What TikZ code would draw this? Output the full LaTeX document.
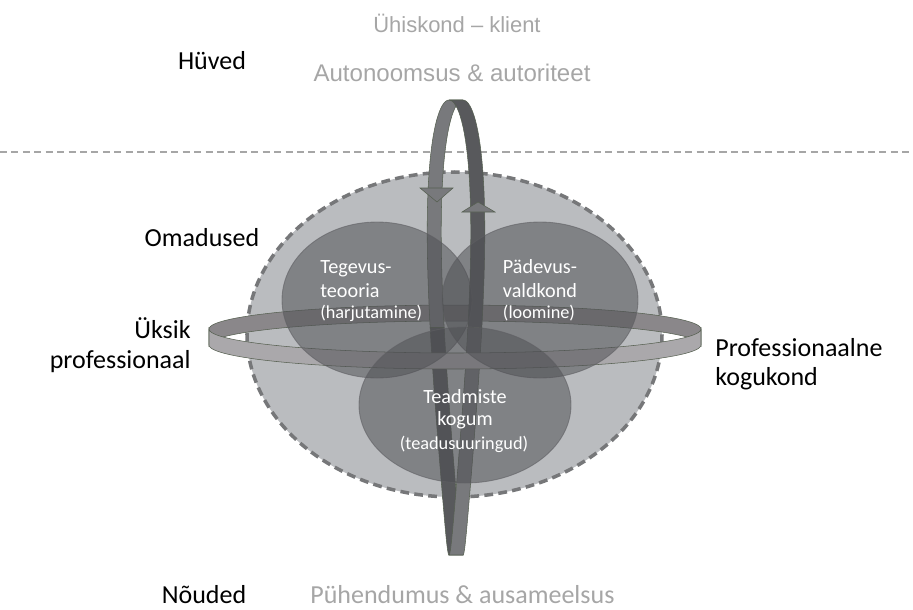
\documentclass[tikz,border=0pt]{standalone}
\usepackage{fontspec}
\setmainfont{Carlito}
\newfontfamily\arialfont{Liberation Sans}

\definecolor{outerfill}{RGB}{186,188,191}
\definecolor{outerline}{RGB}{118,119,121}
\definecolor{circfill}{RGB}{78,79,83}
\definecolor{circline}{RGB}{95,95,99}
\definecolor{paletext}{RGB}{166,166,166}
\definecolor{vlight}{RGB}{120,121,124}
\definecolor{vdark}{RGB}{88,89,92}
\definecolor{hback}{RGB}{138,135,138}
\definecolor{hfront}{RGB}{170,168,171}
\definecolor{ringedge}{RGB}{85,95,80}

\begin{document}
\begin{tikzpicture}[x=0.02cm, y=-0.02cm,
  bigtxt/.style={inner sep=0, anchor=base, font=\fontsize{14.8}{17}\selectfont},
  midtxt/.style={inner sep=0, anchor=base, text=white, font=\fontsize{11.5}{13}\selectfont},
  smalltxt/.style={inner sep=0, anchor=base, text=white, font=\fontsize{10.4}{12}\selectfont},
  pale/.style={inner sep=0, anchor=base, text=paletext},
  ring/.style={draw=ringedge, line width=.3pt},
  area/.style={fill=circfill, fill opacity=.53, draw=circline, draw opacity=.6, line width=.5pt}]

\useasboundingbox (0,0) rectangle (913,609);

% vertical ring
\def\vx{449} \def\vy{327.5} \def\vr{227.5} \def\va{18.85} \def\vb{12.3} \def\vw{14}
% horizontal ring
\def\hx{455} \def\hy{329} \def\hr{246} \def\hs{24} \def\hh{16}

\draw[paletext, line width=.6pt, dash pattern=on 4pt off 2.5pt] (0,152) -- (913,152);

% outer field
\filldraw[fill=outerfill, draw=outerline, line width=2pt, dash pattern=on 5pt off 3pt]
  (454.5,334.5) ellipse [x radius=207.5, y radius=162.5];

% back half of the horizontal ring
\fill[hback, ring] plot[domain=180:360, samples=60] ({\hx+\hr*cos(\x)}, {\hy+\hs*sin(\x)})
  -- plot[domain=360:180, samples=60] ({\hx+\hr*cos(\x)}, {\hy+\hh+\hs*sin(\x)}) -- cycle;

% vertical ring, four quarters
\fill[vlight, ring] plot[domain=180:270, samples=30] ({\vx+(\va-\vb*sin(\x))*cos(\x)}, {\vy+\vr*sin(\x)})
  -- plot[domain=270:180, samples=30] ({\vx+\vw+(\va-\vb*sin(\x))*cos(\x)}, {\vy+\vr*sin(\x)}) -- cycle;
\fill[vdark, ring] plot[domain=270:360, samples=30] ({\vx+(\va-\vb*sin(\x))*cos(\x)}, {\vy+\vr*sin(\x)})
  -- plot[domain=360:270, samples=30] ({\vx+\vw+(\va-\vb*sin(\x))*cos(\x)}, {\vy+\vr*sin(\x)}) -- cycle;
\fill[vdark, ring] plot[domain=90:180, samples=30] ({\vx+(\va-\vb*sin(\x))*cos(\x)}, {\vy+\vr*sin(\x)})
  -- plot[domain=180:90, samples=30] ({\vx+\vw+(\va-\vb*sin(\x))*cos(\x)}, {\vy+\vr*sin(\x)}) -- cycle;
\fill[vlight, ring] plot[domain=0:90, samples=30] ({\vx+(\va-\vb*sin(\x))*cos(\x)}, {\vy+\vr*sin(\x)})
  -- plot[domain=90:0, samples=30] ({\vx+\vw+(\va-\vb*sin(\x))*cos(\x)}, {\vy+\vr*sin(\x)}) -- cycle;

% arrow heads on the vertical ring
\filldraw[fill=vlight, ring] (420,188) -- (453,188) -- (437,202) -- cycle;
\filldraw[fill=vlight, ring] (462,212) -- (495,212) -- (478,202) -- cycle;

% front half of the horizontal ring
\fill[hfront, ring] plot[domain=0:180, samples=60] ({\hx+\hr*cos(\x)}, {\hy+\hs*sin(\x)})
  -- plot[domain=180:0, samples=60] ({\hx+\hr*cos(\x)}, {\hy+\hh+\hs*sin(\x)}) -- cycle;

% the three fields
\path[area] (377,300) ellipse [x radius=95, y radius=78];
\path[area] (540,300) ellipse [x radius=98, y radius=78];
\path[area] (465,405) ellipse [x radius=106, y radius=78];

\node[midtxt, anchor=base west] (tegevus) at (320,273) {Tegevus-};
\node[midtxt, anchor=base west] (teooria) at (320,297) {teooria};
\node[smalltxt, anchor=base west] (harjutamine) at (320,318) {(harjutamine)};
\node[midtxt] (padevus) at (540,273) {Pädevus-};
\node[midtxt] (valdkond) at (540,297) {valdkond};
\node[smalltxt] (loomine) at (539,318) {(loomine)};
\node[midtxt] (teadmiste) at (465,403) {Teadmiste};
\node[midtxt] (kogum) at (465,425) {kogum};
\node[smalltxt] (teadus) at (464,449) {(teadusuuringud)};

% labels round the figure
\node[pale, font=\arialfont\fontsize{12.5}{14}\selectfont] (yhiskond) at (457,32) {Ühiskond – klient};
\node[pale, font=\arialfont\fontsize{13.7}{16}\selectfont] (autonoomsus) at (452,81) {Autonoomsus \& autoriteet};
\node[bigtxt] (hyved) at (212,69) {Hüved};
\node[bigtxt] (omadused) at (202,246) {Omadused};
\node[bigtxt, anchor=base east] (yksik) at (191,338) {Üksik};
\node[bigtxt, anchor=base east] (profyksik) at (191,368) {professionaal};
\node[bigtxt, anchor=base west] (profkogu) at (715,356) {Professionaalne};
\node[bigtxt, anchor=base west] (kogukond) at (715,385) {kogukond};
\node[bigtxt] (nouded) at (204,603) {Nõuded};
\node[bigtxt, pale, anchor=base west] (pyhendumus) at (310,603) {Pühendumus \& ausameelsus};

\end{tikzpicture}
\end{document}
